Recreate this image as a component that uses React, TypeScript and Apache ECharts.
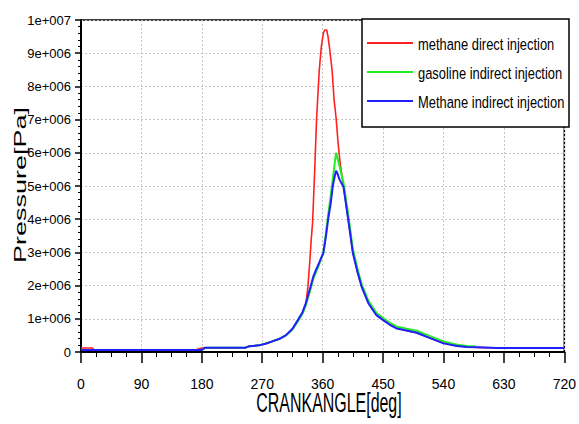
import React, { useEffect, useRef } from "react";
import * as echarts from "echarts";

const seriesNames = [
  "methane direct injection",
  "gasoline indirect injection",
  "Methane indirect injection",
];

const xTickLabels = ["0", "90", "180", "270", "360", "450", "540", "630", "720"];
const yTickLabels = [
  "0", "1e+006", "2e+006", "3e+006", "4e+006", "5e+006",
  "6e+006", "7e+006", "8e+006", "9e+006", "1e+007",
];

// methane direct injection
const redAngle = [0, 17, 20, 170, 180, 185, 245, 250, 265, 275, 285, 295, 305, 315, 323, 330, 335, 338, 341, 343, 345, 348, 351, 355, 358, 361, 363, 366, 368, 370, 374, 377, 380, 383, 386, 391, 398, 405, 412, 418, 428, 440, 450, 460, 470, 485, 500, 520, 540, 560, 590, 620, 680, 720];
const redPressure = [0.12e6, 0.12e6, 0.06e6, 0.06e6, 0.12e6, 0.13e6, 0.13e6, 0.17e6, 0.2e6, 0.25e6, 0.32e6, 0.39e6, 0.5e6, 0.68e6, 0.94e6, 1.18e6, 1.45e6, 1.96e6, 2.77e6, 3.4e6, 3.9e6, 5.4e6, 7.05e6, 8.5e6, 9.2e6, 9.6e6, 9.7e6, 9.7e6, 9.5e6, 9.2e6, 8.5e6, 7.6e6, 7.05e6, 6.3e6, 5.7e6, 5.0e6, 4.0e6, 3.0e6, 2.4e6, 1.97e6, 1.5e6, 1.12e6, 0.98e6, 0.84e6, 0.72e6, 0.64e6, 0.58e6, 0.42e6, 0.27e6, 0.18e6, 0.14e6, 0.12e6, 0.12e6, 0.12e6];

// gasoline indirect injection
const greenAngle = [0, 180, 185, 245, 250, 265, 275, 285, 295, 305, 315, 323, 330, 335, 342, 346, 350, 355, 361, 365, 368, 372, 375, 378, 380, 382, 385, 391, 398, 405, 412, 418, 428, 440, 450, 460, 470, 485, 500, 520, 540, 560, 575, 588];
const greenPressure = [0.06e6, 0.06e6, 0.13e6, 0.13e6, 0.17e6, 0.2e6, 0.26e6, 0.32e6, 0.39e6, 0.5e6, 0.68e6, 0.92e6, 1.15e6, 1.42e6, 1.9e6, 2.2e6, 2.4e6, 2.65e6, 3.0e6, 3.6e6, 4.1e6, 4.7e6, 5.2e6, 5.7e6, 6.0e6, 5.85e6, 5.6e6, 5.1e6, 4.15e6, 3.1e6, 2.5e6, 2.05e6, 1.55e6, 1.18e6, 1.02e6, 0.88e6, 0.77e6, 0.7e6, 0.64e6, 0.48e6, 0.32e6, 0.22e6, 0.18e6, 0.17e6];

// Methane indirect injection
const blueAngle = [0, 180, 185, 245, 250, 265, 275, 285, 295, 305, 315, 323, 330, 335, 342, 346, 350, 355, 361, 365, 368, 372, 375, 378, 380, 382, 385, 391, 398, 405, 412, 418, 428, 440, 450, 460, 470, 485, 500, 520, 540, 560, 575, 590, 620, 680, 720];
const bluePressure = [0.06e6, 0.06e6, 0.13e6, 0.13e6, 0.17e6, 0.2e6, 0.25e6, 0.32e6, 0.39e6, 0.5e6, 0.7e6, 0.96e6, 1.2e6, 1.47e6, 1.97e6, 2.27e6, 2.47e6, 2.7e6, 2.98e6, 3.5e6, 3.98e6, 4.48e6, 4.98e6, 5.3e6, 5.46e6, 5.38e6, 5.2e6, 4.98e6, 4.0e6, 2.98e6, 2.4e6, 1.97e6, 1.47e6, 1.11e6, 0.96e6, 0.82e6, 0.71e6, 0.65e6, 0.58e6, 0.42e6, 0.26e6, 0.18e6, 0.15e6, 0.14e6, 0.12e6, 0.12e6, 0.12e6];

const colors = ["#ff2020", "#20f020", "#2020ff"];

const pairs = (xs: number[], ys: number[]) => xs.map((x, i) => [x, ys[i]]);

export default function App() {
  const ref = useRef<HTMLDivElement>(null);
  useEffect(() => {
    if (!ref.current) return;
    const chart = echarts.init(ref.current, null, { renderer: "svg" });
    const font = "Arial, 'Liberation Sans', sans-serif";
    const data = [
      pairs(redAngle, redPressure),
      pairs(greenAngle, greenPressure),
      pairs(blueAngle, bluePressure),
    ];
    const legendItems: any[] = [];
    seriesNames.forEach((name, i) => {
      const cy = 43 + i * 29;
      legendItems.push({
        type: "line",
        z: 60,
        shape: { x1: 367, y1: cy, x2: 413, y2: cy },
        style: { stroke: colors[i], lineWidth: 2 },
      });
      legendItems.push({
        type: "text",
        x: 418,
        y: cy + 1,
        scaleX: 0.76,
        z: 60,
        style: {
          text: name,
          fontFamily: font,
          fontSize: 17,
          fill: "#000",
          align: "left",
          verticalAlign: "middle",
        },
      });
    });
    chart.setOption({
      animation: false,
      backgroundColor: "#fff",
      grid: {
        left: 81,
        right: 10,
        top: 20,
        bottom: 72,
        show: true,
        borderColor: "#000",
        borderWidth: 1.5,
      },
      xAxis: {
        type: "value",
        min: 0,
        max: 720,
        interval: 90,
        axisLine: { show: true, lineStyle: { color: "#000", width: 2 } },
        axisTick: { show: true, length: 11, lineStyle: { color: "#000", width: 1.5 } },
        minorTick: { show: true, splitNumber: 4, length: 5, lineStyle: { color: "#000", width: 1 } },
        splitLine: { show: true, lineStyle: { color: "#c4c4c4", type: [2, 2], width: 1 } },
        axisLabel: {
          margin: 25,
          fontFamily: font,
          fontSize: 14,
          color: "#000",
          formatter: (v: number) => xTickLabels[Math.round(v / 90)],
        },
      },
      yAxis: {
        type: "value",
        min: 0,
        max: 1e7,
        interval: 1e6,
        axisLine: { show: true, lineStyle: { color: "#000", width: 2 } },
        axisTick: { show: true, length: 6, lineStyle: { color: "#000", width: 1.5 } },
        minorTick: { show: true, splitNumber: 5, length: 3, lineStyle: { color: "#000", width: 1 } },
        splitLine: { show: true, lineStyle: { color: "#c4c4c4", type: [2, 2], width: 1 } },
        axisLabel: {
          margin: 10,
          fontFamily: font,
          fontSize: 13,
          color: "#000",
          formatter: (v: number) => yTickLabels[Math.round(v / 1e6)],
        },
      },
      series: seriesNames.map((name, i) => ({
        name,
        type: "line",
        data: data[i],
        symbol: "none",
        lineStyle: { color: colors[i], width: i === 0 ? 1.6 : 2 },
        itemStyle: { color: colors[i] },
        z: 2 + i,
      })),
      graphic: [
        {
          type: "rect",
          z: 50,
          shape: { x: 362, y: 19, width: 207, height: 108 },
          style: { fill: "#fff", stroke: "#000", lineWidth: 1.5 },
        },
        ...legendItems,
        {
          type: "text",
          x: 329,
          y: 402,
          scaleX: 0.57,
          z: 50,
          style: {
            text: "CRANKANGLE[deg]",
            fontFamily: font,
            fontSize: 28,
            fill: "#000",
            align: "center",
            verticalAlign: "middle",
          },
        },
        {
          type: "text",
          x: 20,
          y: 185,
          rotation: Math.PI / 2,
          scaleY: 0.62,
          z: 50,
          style: {
            text: "Pressure[Pa]",
            fontFamily: font,
            fontSize: 27,
            fill: "#000",
            align: "center",
            verticalAlign: "middle",
          },
        },
      ],
    });
    return () => chart.dispose();
  }, []);
  return (
    <div
      ref={ref}
      style={{ position: "fixed", left: 0, top: 0, width: 579, height: 424 }}
    />
  );
}
